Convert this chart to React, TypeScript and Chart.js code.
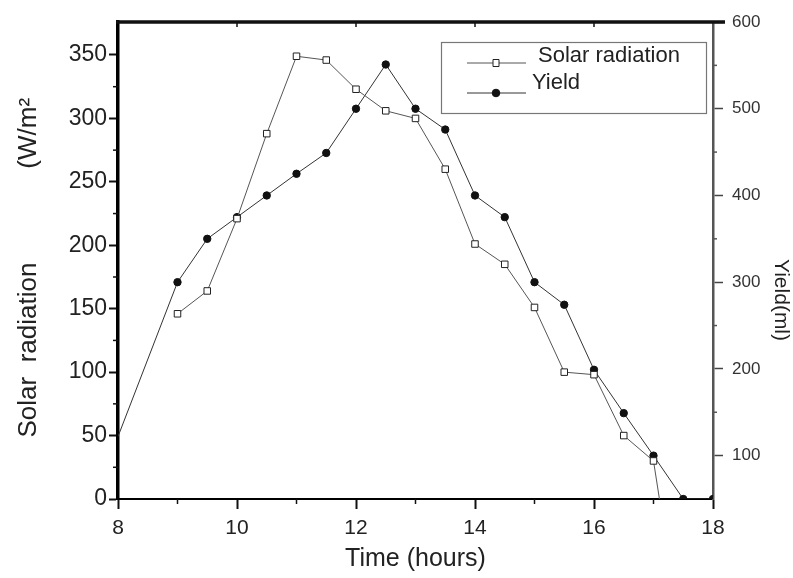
import { useEffect, useRef } from "react";
import { Chart, registerables } from "chart.js";

Chart.register(...registerables);

// ---- data ----
const radiationHours = [9, 9.5, 10, 10.5, 11, 11.5, 12, 12.5, 13, 13.5, 14, 14.5, 15, 15.5, 16, 16.5, 17, 17.1];
const radiationValues = [146, 164, 221, 288, 349, 346, 323, 306, 300, 260, 201, 185, 151, 100, 98, 50, 30, 0];
const yieldHours = [8, 9, 9.5, 10, 10.5, 11, 11.5, 12, 12.5, 13, 13.5, 14, 14.5, 15, 15.5, 16, 16.5, 17, 17.5, 18];
const yieldValues = [122, 300, 350, 375, 400, 425, 449, 500, 551, 500, 476, 400, 375, 300, 274, 199, 149, 100, 50, 50];
const seriesLabels = ["Solar radiation", "Yield"];
const xTitle = "Time (hours)";
const leftTitle = "Solar  radiation             (W/m²  ";
const rightTitle = "Yield(ml)";
const xRange = [8, 18];
const leftRange = [0, 376];
const rightRange = [50, 600];

const FONT = "'Liberation Sans', Arial, sans-serif";

const minorTicks = {
  id: "minorTicks",
  afterDraw(chart: any) {
    const { ctx, chartArea: ca, scales } = chart;
    ctx.save();
    // top frame line
    ctx.strokeStyle = "#111";
    ctx.lineWidth = 3.5;
    ctx.beginPath();
    ctx.moveTo(ca.left - 2, ca.top);
    ctx.lineTo(ca.right + 12, ca.top);
    ctx.stroke();

    const mids = (scale: any) => {
      const t = scale.ticks.map((k: any) => k.value);
      const out: number[] = [];
      for (let i = 0; i < t.length - 1; i++) out.push((t[i] + t[i + 1]) / 2);
      return out;
    };
    // x: minor ticks at the bottom, small inward ticks at the top
    const x = scales.x;
    ctx.strokeStyle = "#111";
    ctx.lineWidth = 1.5;
    mids(x).forEach((v) => {
      const px = x.getPixelForValue(v);
      ctx.beginPath();
      ctx.moveTo(px, ca.bottom);
      ctx.lineTo(px, ca.bottom + 5);
      ctx.stroke();
    });
    x.ticks.forEach((k: any) => {
      const px = x.getPixelForValue(k.value);
      if (px <= ca.left + 2 || px >= ca.right - 2) return;
      ctx.beginPath();
      ctx.moveTo(px, ca.top);
      ctx.lineTo(px, ca.top + 5);
      ctx.stroke();
    });
    // left minor
    const y = scales.y;
    mids(y).forEach((v) => {
      const py = y.getPixelForValue(v);
      ctx.beginPath();
      ctx.moveTo(ca.left, py);
      ctx.lineTo(ca.left - 5, py);
      ctx.stroke();
    });
    // right minor
    const y2 = scales.y2;
    ctx.strokeStyle = "#555";
    mids(y2).forEach((v) => {
      const py = y2.getPixelForValue(v);
      ctx.beginPath();
      ctx.moveTo(ca.right, py);
      ctx.lineTo(ca.right + 4, py);
      ctx.stroke();
    });
    // right axis title
    ctx.fillStyle = "#222";
    ctx.font = `21px ${FONT}`;
    ctx.textAlign = "center";
    ctx.textBaseline = "middle";
    ctx.translate(ca.right + 68, ca.top + 278);
    ctx.rotate(Math.PI / 2);
    ctx.fillText(rightTitle, 0, 0);
    ctx.restore();
  },
};

const boxedLegend = {
  id: "boxedLegend",
  afterDatasetsDraw(chart: any) {
    const { ctx, chartArea: ca } = chart;
    const w = 265;
    const h = 71;
    const left = ca.right - 7 - w;
    const top = ca.top + 20;
    ctx.save();
    ctx.fillStyle = "#fff";
    ctx.fillRect(left, top, w, h);
    ctx.strokeStyle = "#777";
    ctx.lineWidth = 1.2;
    ctx.strokeRect(left + 0.5, top + 0.5, w, h);
    chart.data.datasets.forEach((ds: any, i: number) => {
      const ly = top + 21 + i * 30;
      ctx.strokeStyle = ds.borderColor;
      ctx.lineWidth = 1;
      ctx.beginPath();
      ctx.moveTo(left + 26, ly);
      ctx.lineTo(left + 85, ly);
      ctx.stroke();
      const mx = left + 55;
      ctx.fillStyle = ds.pointBackgroundColor;
      ctx.strokeStyle = ds.pointBorderColor;
      ctx.lineWidth = ds.pointBorderWidth;
      ctx.beginPath();
      if (ds.pointStyle === "rect") {
        ctx.rect(mx - 3, ly - 3.5, 6, 7);
      } else {
        ctx.arc(mx, ly, 3.8, 0, Math.PI * 2);
      }
      ctx.fill();
      ctx.stroke();
      ctx.fillStyle = "#222";
      ctx.font = `22px ${FONT}`;
      ctx.textAlign = "left";
      ctx.textBaseline = "middle";
      ctx.fillText(ds.label, left + (i === 0 ? 97 : 91), top + 14 + i * 27);
    });
    ctx.restore();
  },
};

export default function App() {
  const canvasRef = useRef<HTMLCanvasElement | null>(null);

  useEffect(() => {
    if (!canvasRef.current) return;
    const lastRad = radiationHours.length - 1;
    const chart = new Chart(canvasRef.current, {
      type: "line",
      data: {
        datasets: [
          {
            label: seriesLabels[0],
            data: radiationHours.map((h, i) => ({ x: h, y: radiationValues[i] })),
            xAxisID: "x",
            yAxisID: "y",
            borderColor: "#555",
            borderWidth: 1,
            pointStyle: "rect",
            pointRadius: (c: any) => (c.dataIndex === lastRad ? 0 : 4.6),
            pointBackgroundColor: "#fff",
            pointBorderColor: "#222",
            pointBorderWidth: 1,
            tension: 0,
          },
          {
            label: seriesLabels[1],
            data: yieldHours.map((h, i) => ({ x: h, y: yieldValues[i] })),
            xAxisID: "x",
            yAxisID: "y2",
            borderColor: "#333",
            borderWidth: 1,
            pointStyle: "circle",
            pointRadius: (c: any) => (c.dataIndex === 0 ? 0 : 3.7),
            pointBackgroundColor: "#111",
            pointBorderColor: "#111",
            pointBorderWidth: 1,
            tension: 0,
          },
        ] as any,
      },
      options: {
        animation: false,
        responsive: false,
        devicePixelRatio: 1,
        layout: { padding: { top: 22, left: 0, right: 0, bottom: 0 } },
        plugins: {
          legend: { display: false },
          tooltip: { enabled: false },
        },
        scales: {
          x: {
            type: "linear",
            position: "bottom",
            min: xRange[0],
            max: xRange[1],
            afterFit: (s: any) => {
              s.height = 79;
            },
            ticks: {
              stepSize: 2,
              color: "#222",
              font: { family: FONT, size: 21 },
              padding: 7,
              maxRotation: 0,
            },
            grid: {
              display: true,
              drawOnChartArea: false,
              drawTicks: true,
              tickLength: 10,
              tickWidth: 2,
              tickColor: "#111",
            },
            border: { display: true, color: "#000", width: 2 },
            title: {
              display: true,
              text: xTitle,
              color: "#222",
              font: { family: FONT, size: 25 },
              padding: { top: 0, bottom: 4 },
            },
          },
          y: {
            type: "linear",
            position: "left",
            min: leftRange[0],
            max: leftRange[1],
            afterFit: (s: any) => {
              s.width = 118;
            },
            ticks: {
              stepSize: 50,
              includeBounds: false,
              color: "#222",
              font: { family: FONT, size: 23 },
              padding: 2,
            },
            grid: {
              display: true,
              drawOnChartArea: false,
              drawTicks: true,
              tickLength: 9,
              tickWidth: 2,
              tickColor: "#111",
            },
            border: { display: true, color: "#000", width: 3.5 },
            title: {
              display: true,
              text: leftTitle,
              color: "#222",
              font: { family: FONT, size: 26 },
              padding: { top: 13, bottom: 0 },
            },
          },
          y2: {
            type: "linear",
            position: "right",
            min: rightRange[0],
            max: rightRange[1],
            afterFit: (s: any) => {
              s.width = 80;
            },
            ticks: {
              stepSize: 100,
              includeBounds: false,
              color: "#333",
              font: { family: FONT, size: 17 },
              padding: 9,
            },
            grid: {
              display: true,
              drawOnChartArea: false,
              drawTicks: true,
              tickLength: 10,
              tickWidth: 1.5,
              tickColor: "#444",
            },
            border: { display: true, color: "#555", width: 2.5 },
          },
        },
      } as any,
      plugins: [boxedLegend, minorTicks],
    });
    return () => chart.destroy();
  }, []);

  return (
    <div style={{ position: "fixed", left: 0, top: 0, width: 793, height: 578, background: "#fff" }}>
      <canvas ref={canvasRef} width={793} height={578} style={{ display: "block" }} />
    </div>
  );
}
